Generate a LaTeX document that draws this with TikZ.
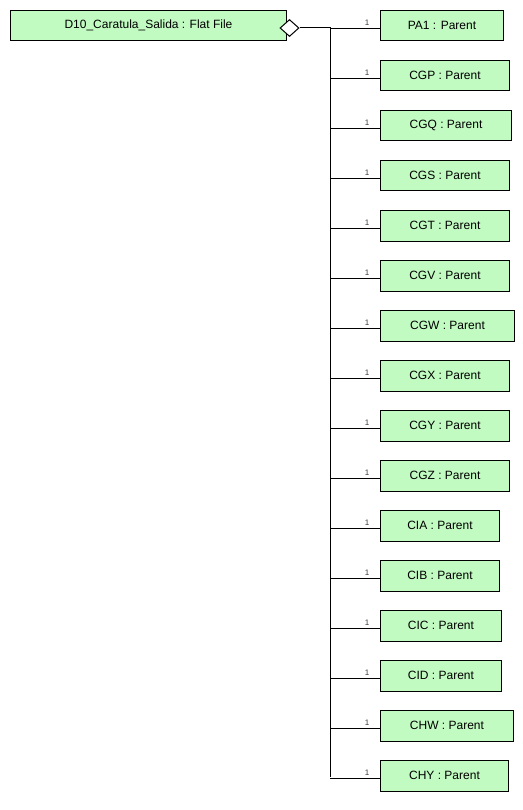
\documentclass[tikz,border=0pt]{standalone}
\usepackage{fontspec}
\setmainfont{Liberation Sans}
\usetikzlibrary{shapes.geometric,positioning}
\definecolor{boxgreen}{RGB}{193,251,193}
\definecolor{labelgray}{RGB}{60,60,60}

\tikzset{
  parent/.style={draw, fill=boxgreen, line width=1pt, anchor=north west,
    minimum height=30.5pt, inner sep=0pt, font=\fontsize{12}{14}\selectfont},
  mult/.style={font=\fontsize{8}{9}\selectfont, text=labelgray, inner sep=0pt},
  branch/.style={line width=1pt}
}

\begin{document}
\begin{tikzpicture}[x=1pt, y=-1pt]
  \useasboundingbox (0,0) rectangle (522,810);
  \node[parent, minimum width=276pt] (flat) at (10,10) {D10\_Caratula\_Salida : Flat File};
  \node[draw, diamond, fill=white, line width=1pt, inner sep=0pt, minimum width=19pt, minimum height=17pt] (agg) at (289.5,28) {};
  \coordinate (top) at (330,28);
  \coordinate (bottom) at (330,777);
  \draw[branch] (agg.east) -- (top) -- (bottom);

  \node[parent, minimum width=123pt] (pa1) at (380,10) {PA1 : Parent};
  \node[parent, minimum width=129pt] (cgp) at (380,60) {CGP : Parent};
  \node[parent, minimum width=131pt] (cgq) at (380,110) {CGQ : Parent};
  \node[parent, minimum width=129pt] (cgs) at (380,160) {CGS : Parent};
  \node[parent, minimum width=129pt] (cgt) at (380,210) {CGT : Parent};
  \node[parent, minimum width=129pt] (cgv) at (380,260) {CGV : Parent};
  \node[parent, minimum width=134pt] (cgw) at (380,310) {CGW : Parent};
  \node[parent, minimum width=129pt] (cgx) at (380,360) {CGX : Parent};
  \node[parent, minimum width=129pt] (cgy) at (380,410) {CGY : Parent};
  \node[parent, minimum width=129pt] (cgz) at (380,460) {CGZ : Parent};
  \node[parent, minimum width=119pt] (cia) at (380,510) {CIA : Parent};
  \node[parent, minimum width=119pt] (cib) at (380,560) {CIB : Parent};
  \node[parent, minimum width=121pt] (cic) at (380,610) {CIC : Parent};
  \node[parent, minimum width=121pt] (cid) at (380,660) {CID : Parent};
  \node[parent, minimum width=133pt] (chw) at (380,710) {CHW : Parent};
  \node[parent, minimum width=128pt] (chy) at (380,760) {CHY : Parent};

  % branches to the trunk, with multiplicity
  \draw[branch] ([yshift=-2.5pt]pa1.west) -- ++(-50,0) node[mult, pos=0.26, above=2pt] (m1) {1};
  \draw[branch] ([yshift=-2.5pt]cgp.west) -- ++(-50,0) node[mult, pos=0.26, above=2pt] (m2) {1};
  \draw[branch] ([yshift=-2.5pt]cgq.west) -- ++(-50,0) node[mult, pos=0.26, above=2pt] (m3) {1};
  \draw[branch] ([yshift=-2.5pt]cgs.west) -- ++(-50,0) node[mult, pos=0.26, above=2pt] (m4) {1};
  \draw[branch] ([yshift=-2.5pt]cgt.west) -- ++(-50,0) node[mult, pos=0.26, above=2pt] (m5) {1};
  \draw[branch] ([yshift=-2.5pt]cgv.west) -- ++(-50,0) node[mult, pos=0.26, above=2pt] (m6) {1};
  \draw[branch] ([yshift=-2.5pt]cgw.west) -- ++(-50,0) node[mult, pos=0.26, above=2pt] (m7) {1};
  \draw[branch] ([yshift=-2.5pt]cgx.west) -- ++(-50,0) node[mult, pos=0.26, above=2pt] (m8) {1};
  \draw[branch] ([yshift=-2.5pt]cgy.west) -- ++(-50,0) node[mult, pos=0.26, above=2pt] (m9) {1};
  \draw[branch] ([yshift=-2.5pt]cgz.west) -- ++(-50,0) node[mult, pos=0.26, above=2pt] (m10) {1};
  \draw[branch] ([yshift=-2.5pt]cia.west) -- ++(-50,0) node[mult, pos=0.26, above=2pt] (m11) {1};
  \draw[branch] ([yshift=-2.5pt]cib.west) -- ++(-50,0) node[mult, pos=0.26, above=2pt] (m12) {1};
  \draw[branch] ([yshift=-2.5pt]cic.west) -- ++(-50,0) node[mult, pos=0.26, above=2pt] (m13) {1};
  \draw[branch] ([yshift=-2.5pt]cid.west) -- ++(-50,0) node[mult, pos=0.26, above=2pt] (m14) {1};
  \draw[branch] ([yshift=-2.5pt]chw.west) -- ++(-50,0) node[mult, pos=0.26, above=2pt] (m15) {1};
  \draw[branch] ([yshift=-2.5pt]chy.west) -- ++(-50,0) node[mult, pos=0.26, above=2pt] (m16) {1};
\end{tikzpicture}
\end{document}
